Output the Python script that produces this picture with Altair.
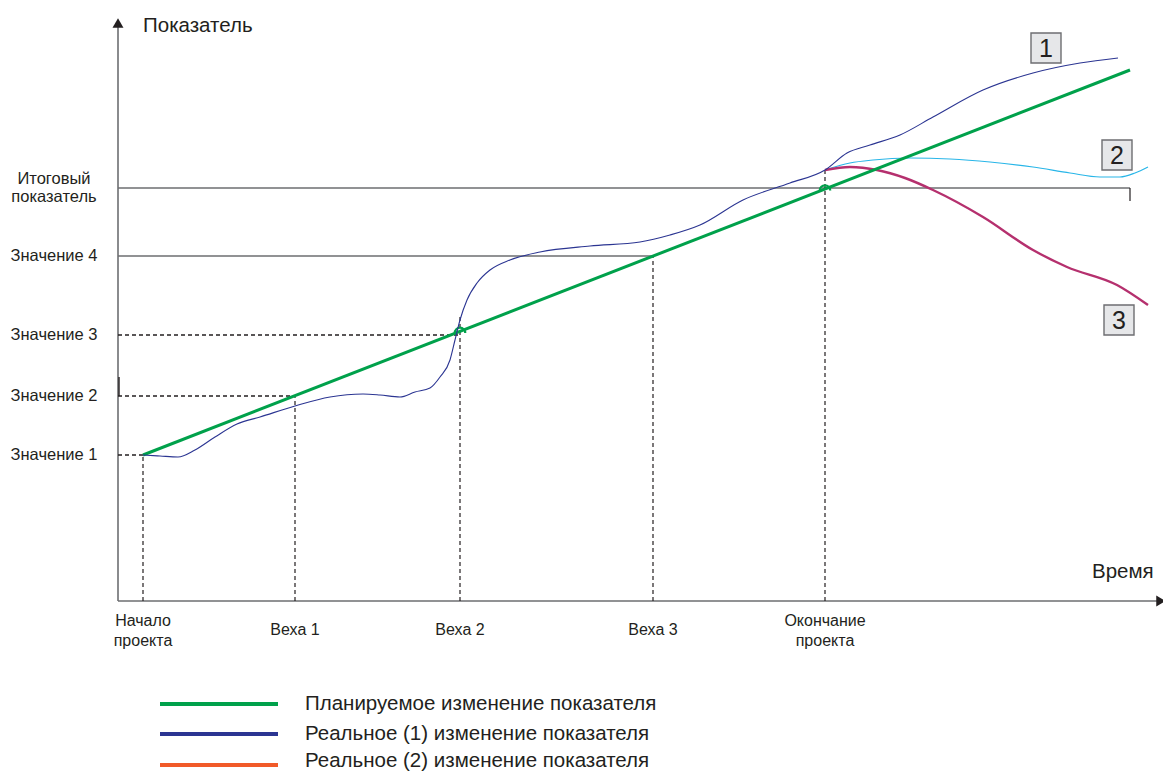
import altair as alt
import pandas as pd

# ---------------- data (time units t, indicator units v) ----------------
milestone_labels = ["Начало\nпроекта", "Веха 1", "Веха 2", "Веха 3", "Окончание\nпроекта"]
milestone_t = [25, 177, 342, 535, 707]
milestone_top = [146, 205, 284, 345, 431]

level_labels = ["Значение 1", "Значение 2", "Значение 3", "Значение 4", "Итоговый\nпоказатель"]
level_v = [146, 205, 266, 345, 413]
level_end_t = [25, 177, 342, 535, 1012]
level_dashed = [True, True, True, False, False]

plan_t = [25, 1012]
plan_v = [146, 531]

real1_t = [25, 42, 60, 77, 97, 119, 142, 177, 212, 245, 262, 282, 297, 312, 322, 332, 337, 342, 349, 359, 372, 392, 422, 472, 522, 552, 582, 625, 672, 707, 729, 752, 782, 815, 865, 915, 962, 1000]
real1_v = [146, 145, 144, 151, 164, 177, 184, 195, 204, 207, 206, 204, 209, 213, 224, 241, 261, 281, 301, 318, 331, 341, 349, 355, 359, 366, 376, 401, 418, 431, 448, 456, 466, 484, 511, 528, 538, 543]

real2_t = [707, 732, 755, 792, 832, 872, 915, 952, 982, 1002, 1017, 1030]
real2_v = [431, 438, 441, 443, 442, 439, 434, 428, 424, 424, 428, 434]

real3_t = [707, 732, 759, 787, 815, 865, 915, 949, 999, 1030]
real3_v = [431, 434, 431, 423, 411, 384, 351, 334, 316, 296]

box_labels = ["1", "2", "3"]
box_t = [928, 999, 1001]
box_v = [553, 446, 281]

legend_labels = ["Планируемое изменение показателя",
                 "Реальное (1) изменение показателя",
                 "Реальное (2) изменение показателя"]
legend_colors = ["#00A14B", "#2B3592", "#F15A29"]

y_title = "Показатель"
x_title = "Время"

# ---------------- scales ----------------
XS = alt.Scale(domain=[-110, 1045], nice=False, zero=False)
YS = alt.Scale(domain=[-171, 593], nice=False, zero=False)
FONT = "Liberation Sans"
TXT = "#231F20"


def X(f="t"):
    return alt.X(f"{f}:Q", scale=XS, axis=None)


def Y(f="v"):
    return alt.Y(f"{f}:Q", scale=YS, axis=None)


layers = []

# axes
axis_df = pd.DataFrame({"t": [0, 0], "t2": [0, 1040], "v": [0, 0], "v2": [578, 0]})
layers.append(alt.Chart(axis_df).mark_rule(color="#6D6E71", strokeWidth=1.6).encode(
    x=X(), x2="t2:Q", y=Y(), y2="v2:Q"))
arrow_up = pd.DataFrame({"t": [0], "v": [578]})
layers.append(alt.Chart(arrow_up).mark_point(shape="triangle-up", filled=True, color="#231F20",
                                             size=120, opacity=1).encode(x=X(), y=Y()))
arrow_right = pd.DataFrame({"t": [1043], "v": [0]})
layers.append(alt.Chart(arrow_right).mark_point(shape="triangle-right", filled=True, color="#231F20",
                                                size=120, opacity=1).encode(x=X(), y=Y()))

# horizontal level lines
lev = pd.DataFrame({"t": [0] * len(level_v), "t2": level_end_t, "v": level_v,
                    "dashed": level_dashed, "label": level_labels})
layers.append(alt.Chart(lev[lev.dashed]).mark_rule(color="#231F20", strokeWidth=1.3,
                                                   strokeDash=[4, 3]).encode(x=X(), x2="t2:Q", y=Y()))
layers.append(alt.Chart(lev[~lev.dashed]).mark_rule(color="#6D6E71", strokeWidth=1.4).encode(
    x=X(), x2="t2:Q", y=Y()))
# end tick of final level
tick_df = pd.DataFrame({"t": [level_end_t[-1]], "v": [level_v[-1]], "v2": [level_v[-1] - 13]})
layers.append(alt.Chart(tick_df).mark_rule(color="#231F20", strokeWidth=1.2).encode(
    x=X(), y=Y(), y2="v2:Q"))
# small mark on the axis near value 2
mark2 = pd.DataFrame({"t": [1], "v": [level_v[1]], "v2": [level_v[1] + 19]})
layers.append(alt.Chart(mark2).mark_rule(color="#231F20", strokeWidth=1.4).encode(
    x=X(), y=Y(), y2="v2:Q"))

# vertical milestone lines
ms = pd.DataFrame({"t": milestone_t, "v": [0] * 5, "v2": milestone_top, "label": milestone_labels})
layers.append(alt.Chart(ms).mark_rule(color="#231F20", strokeWidth=1.2, strokeDash=[4, 3]).encode(
    x=X(), y=Y(), y2="v2:Q"))

# real curves
r2 = pd.DataFrame({"t": real2_t, "v": real2_v})
layers.append(alt.Chart(r2).mark_line(color="#29B6E8", strokeWidth=1.2, interpolate="monotone").encode(
    x=X(), y=Y()))
r3 = pd.DataFrame({"t": real3_t, "v": real3_v})
layers.append(alt.Chart(r3).mark_line(color="#B5306E", strokeWidth=2.4, interpolate="monotone").encode(
    x=X(), y=Y()))

# plan
plan = pd.DataFrame({"t": plan_t, "v": plan_v})
layers.append(alt.Chart(plan).mark_line(color="#00A14B", strokeWidth=3).encode(x=X(), y=Y()))

# line hops on plan line
hop_t = [342, 707]
hop_v = [plan_v[0] + (plan_v[1] - plan_v[0]) * (tt - plan_t[0]) / (plan_t[1] - plan_t[0]) for tt in hop_t]
hops = pd.DataFrame({"t": hop_t, "v": hop_v})
layers.append(alt.Chart(hops).mark_point(shape="M -1 0.3 A 1 1 0 0 1 1 0.3", filled=False,
                                         color="#00A14B", strokeWidth=2.2, size=110, opacity=1).encode(
    x=X(), y=Y()))

r1 = pd.DataFrame({"t": real1_t, "v": real1_v})
layers.append(alt.Chart(r1).mark_line(color="#2B3592", strokeWidth=1.1, interpolate="monotone").encode(
    x=X(), y=Y()))

# numbered boxes
boxes = pd.DataFrame({"t": box_t, "v": box_v, "label": box_labels})
layers.append(alt.Chart(boxes).mark_square(size=900, fill="#E6E7E9", stroke="#6D6E71",
                                           strokeWidth=1.4, opacity=1).encode(x=X(), y=Y()))
layers.append(alt.Chart(boxes).mark_text(font=FONT, fontSize=25, color=TXT, baseline="middle",
                                         dy=1).encode(x=X(), y=Y(), text="label:N"))

# level labels
lev_lab = pd.DataFrame({"t": [-64] * 5, "v": level_v, "label": level_labels})
lev_lab["multi"] = lev_lab["label"].str.contains("\n")
layers.append(alt.Chart(lev_lab[~lev_lab.multi]).mark_text(
    font=FONT, fontSize=16.5, color=TXT, align="center", baseline="middle").encode(
    x=X(), y=Y(), text="label:N"))
layers.append(alt.Chart(lev_lab[lev_lab.multi]).mark_text(
    font=FONT, fontSize=16.5, color=TXT, align="center", baseline="middle",
    lineBreak="\n", lineHeight=18, dy=-9).encode(x=X(), y=Y(), text="label:N"))

# milestone labels
ms_lab = pd.DataFrame({"t": milestone_t, "v": [-29] * 5, "label": milestone_labels})
ms_lab["multi"] = ms_lab["label"].str.contains("\n")
layers.append(alt.Chart(ms_lab[~ms_lab.multi]).mark_text(
    font=FONT, fontSize=16, color=TXT, align="center", baseline="middle").encode(
    x=X(), y=Y(), text="label:N"))
layers.append(alt.Chart(ms_lab[ms_lab.multi]).mark_text(
    font=FONT, fontSize=16, color=TXT, align="center", baseline="middle",
    lineBreak="\n", lineHeight=20, dy=-9).encode(x=X(), y=Y(), text="label:N"))

# axis titles
titles = pd.DataFrame({"t": [25, 974], "v": [575, 29], "label": [y_title, x_title]})
layers.append(alt.Chart(titles).mark_text(font=FONT, fontSize=20.5, color=TXT, align="left",
                                          baseline="middle").encode(x=X(), y=Y(), text="label:N"))

# legend
n = len(legend_labels)
leg_v = [-103, -133, -164]
leg_text_v = [-103, -133, -160]
leg = pd.DataFrame({"t": [42] * n, "t2": [160] * n, "v": leg_v, "vt": leg_text_v,
                    "label": legend_labels, "color": legend_colors})
layers.append(alt.Chart(leg).mark_rule(strokeWidth=4).encode(
    x=X(), x2="t2:Q", y=Y(),
    color=alt.Color("color:N", scale=None, legend=None)))
leg_txt = leg.assign(tt=187)
layers.append(alt.Chart(leg_txt).mark_text(font=FONT, fontSize=20.5, color=TXT, align="left",
                                           baseline="middle").encode(
    x=X("tt"), y=Y("vt"), text="label:N"))

chart = alt.layer(*layers).properties(
    width=1155, height=764, padding=0, autosize="none"
).configure_view(stroke=None)

chart.save("out.html", embed_options={"renderer": "svg", "actions": False})
